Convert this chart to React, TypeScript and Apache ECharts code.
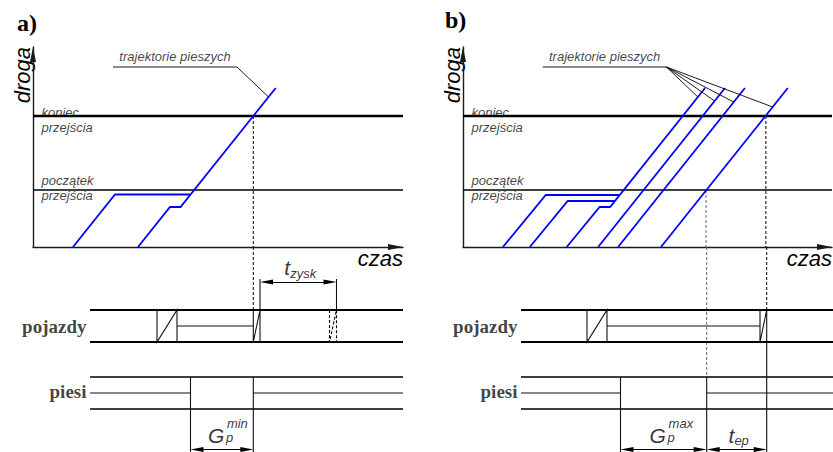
import React, { useEffect, useRef } from 'react';
import * as echarts from 'echarts';

// ---------------- values ----------------
// time (horizontal) and distance (vertical) in drawing units
const T_MAX = 37;
const D_MAX = 20;
const KONIEC = 13.1;    // "koniec przejścia"
const POCZATEK = 5.7;   // "początek przejścia"

// panel a) – pedestrian trajectories [time, distance]
const A_TRAJ_1 = [[4.0, 0], [8.2, 5.25], [15.75, 5.25]];
const A_TRAJ_2 = [[10.5, 0], [13.7, 4.0], [14.75, 4.0], [24.27, 15.9]];

// panel b) – pedestrian trajectories [time, distance]
const B_TRAJ_1 = [[4.0, 0], [8.3, 5.2], [15.71, 5.2]];
const B_TRAJ_2 = [[6.7, 0], [10.5, 4.6], [15.23, 4.6]];
const B_TRAJ_3 = [[10.4, 0], [13.7, 4.0], [14.75, 4.0], [24.27, 15.9]];
const B_TRAJ_4 = [[13.55, 0], [26.27, 15.9]];
const B_TRAJ_5 = [[15.55, 0], [28.27, 15.9]];
const B_TRAJ_6 = [[19.85, 0], [32.57, 15.9]];

// points on the trajectories the "trajektorie pieszych" leader points at
const A_LEADER_TARGETS = [[23.55, 15.0]];
const B_LEADER_TARGETS = [[23.55, 15.0], [25.23, 14.6], [27.15, 14.5], [31.05, 14.0]];
const LEADER_UNDERLINE = [8.0, 20.4];
const LEADER_LEVEL = 18.0;

// signal timing, panel a)
const A_BAND_SPAN = [5.7, 37];
const A_VEH_AMBER = [12.4, 14.4];
const A_VEH_RED_AMBER = [22.03, 22.7];
const A_VEH_RED_AMBER_ALT = [29.65, 30.35];
const A_PED_GREEN = [15.75, 22.03];
const A_T_ZYSK = [22.7, 30.35];

// signal timing, panel b)
const B_BAND_SPAN = [5.8, 37];
const B_VEH_AMBER = [12.4, 14.4];
const B_VEH_RED_AMBER = [29.7, 30.37];
const B_PED_GREEN = [15.75, 24.37];
const B_T_EP = [24.37, 30.37];

// ---------------- layout / style ----------------
const ROW = { vehTop: 14.2, vehMid: 12.6, vehBot: 11.0, pedTop: 7.5, pedMid: 5.9, pedBot: 4.3, dimHigh: 17.0, dimLow: 0.25, extTop: 17.3, max: 20.5 };
const BLUE = '#0000ff';
const SANS = 'Liberation Sans';
const SERIF = 'Liberation Serif';
const ARW = 0.65; // half arrow length in time units
const GAP: any = ['-', '-'];
const join = (parts: any[][]) => parts.flatMap((p, i) => (i ? [GAP, ...p] : p));

type Dim = { span: number[]; row: number; main: string; sub: string; sup?: string };
type Panel = {
  left: number; title: string; titleLeft: number; titleTop: number;
  traj: number[][][]; leaderTargets: number[][];
  span: number[]; vehAmber: number[]; vehRedAmber: number[]; vehRedAmberAlt?: number[];
  pedGreen: number[];
  connectors: { t: number; from: number; to: number; color: string }[];
  extensions: number[][];
  dims: Dim[];
};

const PANELS: Panel[] = [
  {
    left: 33, title: 'a)', titleLeft: 17, titleTop: 11,
    traj: [A_TRAJ_1, A_TRAJ_2], leaderTargets: A_LEADER_TARGETS,
    span: A_BAND_SPAN, vehAmber: A_VEH_AMBER, vehRedAmber: A_VEH_RED_AMBER, vehRedAmberAlt: A_VEH_RED_AMBER_ALT,
    pedGreen: A_PED_GREEN,
    connectors: [{ t: A_VEH_RED_AMBER[0], from: KONIEC, to: ROW.vehTop, color: '#000' }],
    extensions: [[A_T_ZYSK[0], ROW.vehBot, ROW.extTop], [A_T_ZYSK[1], ROW.vehTop, ROW.extTop]],
    dims: [
      { span: A_T_ZYSK, row: ROW.dimHigh, main: 't', sub: 'zysk' },
      { span: A_PED_GREEN, row: ROW.dimLow, main: 'G', sup: 'min', sub: 'p' },
    ],
  },
  {
    left: 463, title: 'b)', titleLeft: 445, titleTop: 8,
    traj: [B_TRAJ_1, B_TRAJ_2, B_TRAJ_3, B_TRAJ_4, B_TRAJ_5, B_TRAJ_6], leaderTargets: B_LEADER_TARGETS,
    span: B_BAND_SPAN, vehAmber: B_VEH_AMBER, vehRedAmber: B_VEH_RED_AMBER,
    pedGreen: B_PED_GREEN,
    connectors: [
      { t: B_PED_GREEN[1], from: POCZATEK, to: ROW.pedTop, color: '#666' },
      { t: B_VEH_RED_AMBER[1], from: KONIEC, to: ROW.vehTop, color: '#000' },
    ],
    extensions: [[B_VEH_RED_AMBER[1], ROW.vehBot, 0]],
    dims: [
      { span: B_PED_GREEN, row: ROW.dimLow, main: 'G', sup: 'max', sub: 'p' },
      { span: B_T_EP, row: ROW.dimLow, main: 't', sub: 'ep' },
    ],
  },
];

const italic = (size: number) => ({ fontFamily: SANS, fontStyle: 'italic', fontSize: size, color: '#000' });

function buildOption() {
  const grid: any[] = [];
  const xAxis: any[] = [];
  const yAxis: any[] = [];
  const series: any[] = [];
  const title: any[] = [];

  PANELS.forEach((p, i) => {
    const gTop = 2 * i;
    const gBot = 2 * i + 1;
    grid.push({ left: p.left, top: 47, width: 370, height: 200 });
    grid.push({ left: p.left, top: 247, width: 370, height: 205 });
    title.push({ text: p.title, left: p.titleLeft, top: p.titleTop, padding: 0, textStyle: { fontFamily: SERIF, fontWeight: 'bold', fontSize: 24, color: '#000' } });

    const axisLine = { show: true, symbol: ['none', 'triangle'], symbolSize: [6, 15], symbolOffset: [0, -7.5], lineStyle: { color: '#1a1a1a', width: 1.4 } };
    xAxis.push({
      type: 'value', gridIndex: gTop, min: 0, max: T_MAX, axisLine,
      axisTick: { show: false }, axisLabel: { show: false }, splitLine: { show: false },
      name: 'czas', nameLocation: 'end', nameGap: 0,
      nameTextStyle: { ...italic(22), align: 'right', verticalAlign: 'top' },
    });
    yAxis.push({
      type: 'value', gridIndex: gTop, min: 0, max: D_MAX, axisLine,
      axisTick: { show: false }, axisLabel: { show: false }, splitLine: { show: false },
      name: 'droga', nameLocation: 'end', nameGap: 0, nameRotate: 90,
      nameTextStyle: { ...italic(22), align: 'right', verticalAlign: 'bottom' },
    });
    xAxis.push({ type: 'value', gridIndex: gBot, min: 0, max: T_MAX, show: false });
    yAxis.push({ type: 'value', gridIndex: gBot, min: 0, max: ROW.max, show: false });

    const onTop = { xAxisIndex: gTop, yAxisIndex: gTop };
    const onBot = { xAxisIndex: gBot, yAxisIndex: gBot };
    const base = { type: 'line', symbol: 'none', showSymbol: false, silent: true, connectNulls: false };
    const ls = (color: string, width: number, type: any = 'solid') => ({ color, width, type, join: 'miter' });

    // ---- top: distance-time diagram ----
    series.push({ ...base, ...onTop, name: 'koniec przejścia', data: [[0, KONIEC], [T_MAX, KONIEC]], lineStyle: ls('#000', 2.3) });
    series.push({ ...base, ...onTop, name: 'początek przejścia', data: [[0, POCZATEK], [T_MAX, POCZATEK]], lineStyle: ls('#000', 1.3) });
    p.connectors.forEach((c) => {
      series.push({ ...base, ...onTop, data: [[c.t, c.from], [c.t, 0]], lineStyle: ls(c.color, 1, [3, 2]) });
      series.push({ ...base, ...onBot, data: [[c.t, ROW.max], [c.t, c.to]], lineStyle: ls(c.color, 1, [3, 2]) });
    });
    p.traj.forEach((tr, k) => {
      series.push({ ...base, ...onTop, name: 'trajektoria ' + (k + 1), data: tr, lineStyle: ls(BLUE, 1.8) });
    });
    const [u0, u1] = LEADER_UNDERLINE;
    series.push({
      ...base, ...onTop, name: 'odnośnik',
      data: join([[[u0, LEADER_LEVEL], [u1, LEADER_LEVEL]], ...p.leaderTargets.map((t) => [[u1, LEADER_LEVEL], t])]),
      lineStyle: ls('#000', 0.9),
    });
    const note = { show: true, position: 'inside', align: 'left', verticalAlign: 'middle', lineHeight: 15, ...italic(13), color: '#111' };
    series.push({
      type: 'scatter', ...onTop, symbolSize: 1, itemStyle: { color: 'rgba(0,0,0,0)' }, silent: true,
      data: [
        { value: [0.85, KONIEC], label: { ...note, formatter: 'koniec\nprzejścia', offset: [0, 3.5] } },
        { value: [0.85, POCZATEK], label: { ...note, formatter: 'początek\nprzejścia', offset: [0, -2.5] } },
        { value: [(u0 + u1) / 2, LEADER_LEVEL], label: { ...note, align: 'center', formatter: 'trajektorie pieszych', offset: [0, -10.5] } },
      ],
    });

    // ---- bottom: signal timing ----
    const [v0, v1] = p.span;
    series.push({
      ...base, ...onBot, name: 'pojazdy',
      data: join([[[v0, ROW.vehTop], [v1, ROW.vehTop]], [[v0, ROW.vehBot], [v1, ROW.vehBot]]]),
      lineStyle: ls('#000', 2),
    });
    series.push({
      ...base, ...onBot, name: 'piesi',
      data: join([[[v0, ROW.pedTop], [v1, ROW.pedTop]], [[v0, ROW.pedBot], [v1, ROW.pedBot]]]),
      lineStyle: ls('#000', 1.6),
    });
    const block = (b: number[]) => [[b[0], ROW.vehTop], [b[0], ROW.vehBot], [b[1], ROW.vehTop], [b[1], ROW.vehBot]];
    series.push({
      ...base, ...onBot, name: 'fazy',
      data: join([
        block(p.vehAmber),
        [[p.vehAmber[1], ROW.vehMid], [p.vehRedAmber[0], ROW.vehMid]],
        block(p.vehRedAmber),
        [[v0, ROW.pedMid], [p.pedGreen[0], ROW.pedMid]],
        [[p.pedGreen[1], ROW.pedMid], [v1, ROW.pedMid]],
        [[p.pedGreen[0], ROW.pedTop], [p.pedGreen[0], 0]],
        [[p.pedGreen[1], ROW.pedTop], [p.pedGreen[1], 0]],
        ...p.extensions.map(([t, a, b]) => [[t, a], [t, b]]),
      ]),
      lineStyle: ls('#111', 1.1),
      markLine: {
        silent: true, symbol: ['triangle', 'triangle'], symbolSize: [5, 13],
        label: { show: false }, lineStyle: { color: '#000', width: 1, type: 'solid' },
        data: p.dims.map((d) => [{ coord: [d.span[0] + ARW, d.row] }, { coord: [d.span[1] - ARW, d.row] }]),
      },
    });
    if (p.vehRedAmberAlt) {
      series.push({ ...base, ...onBot, name: 'wariant', data: block(p.vehRedAmberAlt), lineStyle: ls('#000', 1.1, [3, 2]) });
    }
    const rowLabel = { show: true, position: 'left', distance: 3, fontFamily: SERIF, fontWeight: 'bold', fontSize: 19, color: '#111' };
    const labels: any[] = [
      { value: [v0, ROW.vehMid], label: { ...rowLabel, formatter: 'pojazdy' } },
      { value: [v0, ROW.pedMid], label: { ...rowLabel, formatter: 'piesi', offset: [0, -2] } },
    ];
    p.dims.forEach((d) => {
      const mid = (d.span[0] + d.span[1]) / 2;
      const lb = { show: true, position: 'inside', align: 'left', verticalAlign: 'middle' };
      if (d.sup) {
        labels.push({ value: [mid, d.row], label: { ...lb, ...italic(21), formatter: d.main, offset: [-14, -13.8] } });
        labels.push({ value: [mid, d.row], label: { ...lb, ...italic(13), formatter: d.sup, offset: [5, -26] } });
        labels.push({ value: [mid, d.row], label: { ...lb, ...italic(13), formatter: d.sub, offset: [4, -12] } });
      } else {
        labels.push({
          value: [mid, d.row],
          label: {
            ...lb, align: 'center', ...italic(21), offset: [2, -14.5],
            formatter: `{m|${d.main}}{s|${d.sub}}`,
            rich: {
              m: { ...italic(21), lineHeight: 24 },
              s: { ...italic(13), lineHeight: 16, verticalAlign: 'bottom' },
            },
          },
        });
      }
    });
    series.push({ type: 'scatter', ...onBot, symbolSize: 1, itemStyle: { color: 'rgba(0,0,0,0)' }, silent: true, data: labels });
  });

  return { animation: false, backgroundColor: '#fff', title, grid, xAxis, yAxis, series };
}

export default function App() {
  const ref = useRef<HTMLDivElement>(null);
  useEffect(() => {
    const chart = echarts.init(ref.current!, null, { renderer: 'svg' });
    chart.setOption(buildOption() as any);
    return () => chart.dispose();
  }, []);
  return <div ref={ref} style={{ position: 'fixed', left: 0, top: 0, width: 833, height: 452, background: '#fff' }} />;
}
